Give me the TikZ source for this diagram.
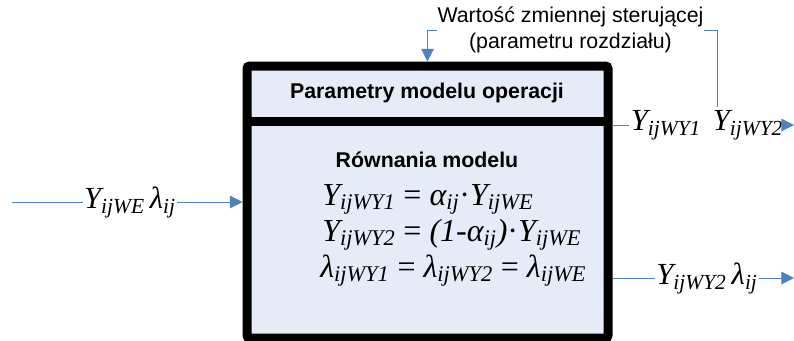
\documentclass[tikz,border=0pt]{standalone}
\usepackage{fontspec}
\setmainfont{Liberation Serif}
\setsansfont{Liberation Sans}
\usetikzlibrary{arrows.meta}
\definecolor{boxfill}{RGB}{230,236,247}
\definecolor{flowblue}{RGB}{79,129,189}
\newcommand{\ix}[2]{#1\textsubscript{#2}}
\newcommand{\eqs}{\ {\upshape=}\ }
\tikzset{
  opbox/.style={draw=black, line width=6.75pt, fill=boxfill, rounded corners=2pt},
  flow/.style={draw=flowblue, line width=0.75pt},
  flowarrow/.style={flow, -{Triangle[length=9.5pt,width=9.5pt]}},
  sig/.style={font=\itshape\fontsize{23}{25}\selectfont, inner sep=1pt},
  eqn/.style={font=\itshape\fontsize{24}{26}\selectfont, inner sep=0pt, anchor=base west},
  head/.style={font=\sffamily\bfseries\fontsize{16}{18}\selectfont}
}
\begin{document}
\begin{tikzpicture}[x=0.75pt, y=-0.75pt]
    \useasboundingbox (0,0) rectangle (794,340);

    % operation block
    \node[opbox, minimum width=270.75pt, minimum height=204pt] (op) at (427.5,202) {};
    \draw[line width=6.75pt] (247,121) -- (608,121);
    \node[head] (par) at (427,93) {Parametry modelu operacji};
    \node[head] (rown) at (427,160) {Równania modelu};

    % equations
    \node[eqn] (eq1) at (322,205) {\ix{Y}{ijWY1}\eqs\ix{α}{ij}{\upshape·}\ix{Y}{ijWE}};
    \node[eqn] (eq2) at (322,241) {\ix{Y}{ijWY2}\eqs(1-\ix{α}{ij}){\upshape·}\ix{Y}{ijWE}};
    \node[eqn] (eq3) at (320,277) {\ix{λ}{ijWY1}\eqs\ix{λ}{ijWY2}\eqs\ix{λ}{ijWE}};

    % control value
    \node[font=\sffamily\fontsize{16}{19}\selectfont, align=center, inner sep=0pt] (ctrl) at (570.5,30)
        {Wartość zmiennej sterującej\\(parametru rozdziału)};

    % input
    \coordinate (in) at (12,202);
    \node[sig] (we) at (130,202) {\ix{Y}{ijWE}\,\ix{λ}{ij}};
    \draw[flow] (in) -- (we);
    \draw[flowarrow] (we) -- (op.west);

    % output 1 / 2
    \node[sig] (wy1) at (666,125) {\ix{Y}{ijWY1}};
    \node[sig] (wy2) at (748,125) {\ix{Y}{ijWY2}};
    \coordinate (out1) at (794,125);
    \draw[flow] (op.east |- wy1.west) -- (wy1.west);
    \draw[flowarrow] (wy2.east) -- (out1);

    \node[sig] (wy2b) at (707,278) {\ix{Y}{ijWY2}\,\ix{λ}{ij}};
    \coordinate (out2) at (794,278);
    \draw[flow] (op.east |- wy2b.west) -- (wy2b.west);
    \draw[flowarrow] (wy2b.east) -- (out2);

    % control lines
    \coordinate (tap) at (717,107);
    \draw[flowarrow] (ctrl.west) -| (op.north);
    \draw[flow] (ctrl.east) -| (tap);
\end{tikzpicture}
\end{document}
